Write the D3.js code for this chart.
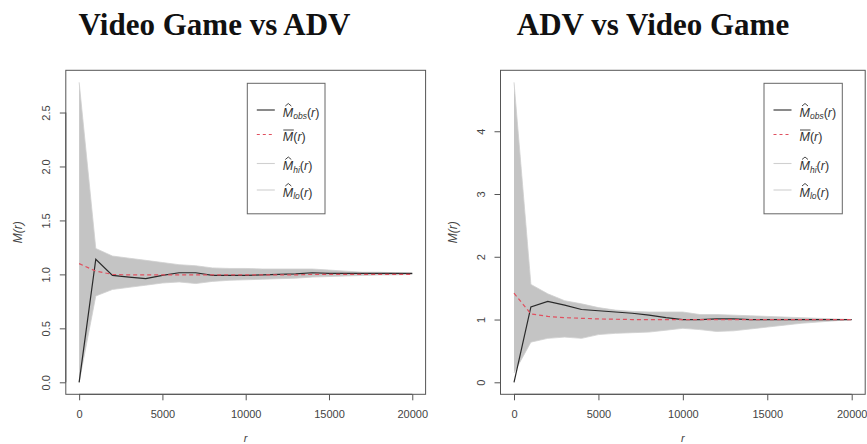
<!DOCTYPE html>
<html><head><meta charset="utf-8">
<script src="https://cdn.jsdelivr.net/npm/d3@7"></script>
<style>body{margin:0;background:#fff}svg{display:block}</style>
</head><body>
<svg id="chart" width="867" height="444"></svg>
<script>
// ---------------- data ----------------
const titles = ["Video Game vs ADV", "ADV vs Video Game"];
const rValues = [0,1000,2000,3000,4000,5000,6000,7000,8000,9000,10000,11000,12000,13000,14000,15000,16000,17000,18000,19000,20000];
const rTicks = [0,5000,10000,15000,20000];

// Video Game vs ADV
const vgObs  = [0,1.14,0.99,0.975,0.96,0.99,1.015,1.015,0.99,0.99,0.99,0.995,1.0,1.005,1.015,1.01,1.01,1.01,1.01,1.01,1.01];
const vgMean = [1.10,1.03,1.0,0.995,0.995,0.995,0.995,0.995,0.995,0.995,0.995,0.995,0.995,0.995,1.0,1.0,1.0,1.0,1.0,1.0,1.0];
const vgHi   = [2.78,1.24,1.17,1.15,1.13,1.11,1.09,1.08,1.06,1.055,1.055,1.05,1.05,1.05,1.05,1.04,1.03,1.02,1.02,1.015,1.01];
const vgLo   = [0.0,0.80,0.86,0.88,0.90,0.92,0.93,0.915,0.935,0.945,0.95,0.955,0.96,0.965,0.975,0.98,0.985,0.99,0.995,0.995,1.0];
const vgYTicks = [0,0.5,1.0,1.5,2.0,2.5];

// ADV vs Video Game
const advObs  = [0,1.20,1.29,1.23,1.16,1.14,1.12,1.10,1.07,1.03,1.0,1.0,1.01,1.01,1.0,1.0,1.0,1.0,1.0,1.0,1.0];
const advMean = [1.42,1.09,1.05,1.03,1.02,1.01,1.005,1.0,1.0,1.0,1.0,1.0,1.0,1.0,1.0,1.0,1.0,1.0,1.0,1.0,1.0];
const advHi   = [4.78,1.56,1.41,1.30,1.25,1.19,1.15,1.13,1.12,1.12,1.12,1.08,1.08,1.07,1.06,1.05,1.04,1.03,1.02,1.01,1.0];
const advLo   = [0.15,0.64,0.70,0.72,0.70,0.76,0.78,0.79,0.80,0.83,0.86,0.84,0.81,0.82,0.85,0.88,0.91,0.94,0.96,0.98,1.0];
const advYTicks = [0,1,2,3,4];

const legendSubs = ["obs", null, "hi", "lo"];

// ---------------- layout ----------------
const panels = [
  {title: titles[0], obs: vgObs, mean: vgMean, hi: vgHi, lo: vgLo, yTicks: vgYTicks, yFmt: d3.format(".1f"),
   x0: 65.8, x1: 425.6, titleX: 214.5, legX: 247.3, legW: 77.7},
  {title: titles[1], obs: advObs, mean: advMean, hi: advHi, lo: advLo, yTicks: advYTicks, yFmt: d3.format("d"),
   x0: 500.5, x1: 865.2, titleX: 653, legX: 764, legW: 78.3}
];
const yTop = 70.3, yBot = 394.3;
const axisCol = "#555", textCol = "#444";
const svg = d3.select("#chart");
const sans = "'Liberation Sans', Arial, sans-serif";

panels.forEach(p => {
  // R-style 4% padding
  const xExt = d3.extent(rValues), xPad = (xExt[1]-xExt[0])*0.04;
  const x = d3.scaleLinear().domain([xExt[0]-xPad, xExt[1]+xPad]).range([p.x0, p.x1]);
  const yMax = d3.max([...p.obs, ...p.hi, ...p.lo, ...p.mean]);
  const yMin = d3.min([...p.obs, ...p.hi, ...p.lo, ...p.mean]);
  const yPad = (yMax - yMin)*0.04;
  const y = d3.scaleLinear().domain([yMin-yPad, yMax+yPad]).range([yBot, yTop]);

  const g = svg.append("g");

  // title
  svg.append("text").attr("x", p.titleX).attr("y", 35).attr("text-anchor", "middle")
    .attr("font-family", "'Liberation Serif', 'Times New Roman', serif").attr("font-weight", "bold")
    .attr("font-size", 31).attr("fill", "#111").text(p.title);

  // band
  const pts = rValues.map((r, i) => ({r, hi: p.hi[i], lo: p.lo[i], obs: p.obs[i], mean: p.mean[i]}));
  g.append("path").datum(pts)
    .attr("d", d3.area().x(d => x(d.r)).y0(d => y(d.lo)).y1(d => y(d.hi)))
    .attr("fill", "#c4c4c4").attr("stroke", "none");
  ["hi", "lo"].forEach(k => {
    g.append("path").datum(pts).attr("d", d3.line().x(d => x(d.r)).y(d => y(d[k])))
      .attr("fill", "none").attr("stroke", "#cfcfcf").attr("stroke-width", 0.8);
  });
  // observed
  g.append("path").datum(pts).attr("d", d3.line().x(d => x(d.r)).y(d => y(d.obs)))
    .attr("fill", "none").attr("stroke", "#2a2a2a").attr("stroke-width", 1.2);
  // mean
  g.append("path").datum(pts).attr("d", d3.line().x(d => x(d.r)).y(d => y(d.mean)))
    .attr("fill", "none").attr("stroke", "#e0505f").attr("stroke-width", 1.2).attr("stroke-dasharray", "4,3");

  // box
  g.append("rect").attr("x", p.x0).attr("y", yTop).attr("width", p.x1-p.x0).attr("height", yBot-yTop)
    .attr("fill", "none").attr("stroke", axisCol).attr("stroke-width", 1);

  // x axis
  const xa = g.append("g").attr("transform", `translate(0,${yBot})`)
    .call(d3.axisBottom(x).tickValues(rTicks).tickSize(6).tickPadding(10).tickFormat(d3.format("d")));
  xa.select(".domain").attr("d", `M${x(rTicks[0])},0H${x(rTicks[rTicks.length-1])}`).attr("stroke", axisCol);
  xa.selectAll(".tick line").attr("stroke", axisCol);
  xa.selectAll(".tick text").attr("font-family", sans).attr("font-size", 11).attr("fill", textCol);

  // y axis
  const ya = g.append("g").attr("transform", `translate(${p.x0},0)`)
    .call(d3.axisLeft(y).tickValues(p.yTicks).tickSize(6).tickFormat(p.yFmt));
  ya.select(".domain").attr("d", `M0,${y(p.yTicks[0])}V${y(p.yTicks[p.yTicks.length-1])}`).attr("stroke", axisCol);
  ya.selectAll(".tick line").attr("stroke", axisCol);
  ya.selectAll(".tick text")
    .attr("font-family", sans).attr("font-size", 11).attr("fill", textCol)
    .attr("x", null).attr("dy", null).attr("text-anchor", "middle")
    .attr("transform", "translate(-15.5,0) rotate(-90)");

  // axis titles
  g.append("text").attr("x", (p.x0+p.x1)/2).attr("y", 441.5).attr("text-anchor", "middle")
    .attr("font-family", sans).attr("font-style", "italic").attr("font-size", 11).attr("fill", textCol).text("r");
  g.append("text").attr("transform", `translate(${p.x0-43.5},${(yTop+yBot)/2}) rotate(-90)`)
    .attr("text-anchor", "middle").attr("font-family", sans).attr("font-style", "italic")
    .attr("font-size", 12).attr("fill", textCol).text("M(r)");

  // legend
  const lg = g.append("g");
  lg.append("rect").attr("x", p.legX).attr("y", 83.3).attr("width", p.legW).attr("height", 130.5)
    .attr("fill", "#fff").attr("stroke", "#666").attr("stroke-width", 1);
  const baselines = [116.5, 141, 170, 196.5];
  const styles = [
    {stroke: "#2a2a2a", dash: null},
    {stroke: "#e0505f", dash: "3,3"},
    {stroke: "#d0d0d0", dash: null},
    {stroke: "#d0d0d0", dash: null}
  ];
  const lx0 = p.legX + 9.5, lx1 = p.legX + 27.5, tx = p.legX + 35.5;
  baselines.forEach((b, i) => {
    lg.append("line").attr("x1", lx0).attr("x2", lx1).attr("y1", b-6.5).attr("y2", b-6.5)
      .attr("stroke", styles[i].stroke).attr("stroke-width", 1.1).attr("stroke-dasharray", styles[i].dash);
    const t = lg.append("text").attr("x", tx).attr("y", b).attr("font-family", sans)
      .attr("font-size", 12.5).attr("fill", "#333");
    t.append("tspan").attr("font-style", "italic").text("M");
    if (legendSubs[i]) {
      t.append("tspan").attr("font-style", "italic").attr("font-size", 8.5).attr("dy", 2.5).text(legendSubs[i]);
      t.append("tspan").attr("dy", -2.5).text("(");
    } else {
      t.append("tspan").text("(");
    }
    t.append("tspan").attr("font-style", "italic").text("r");
    t.append("tspan").text(")");
    if (legendSubs[i]) {
      // hat
      lg.append("path").attr("d", `M${tx+2.5},${b-10.5}L${tx+5.5},${b-13}L${tx+8.5},${b-10.5}`)
        .attr("fill", "none").attr("stroke", "#333").attr("stroke-width", 0.9);
    } else {
      // bar
      lg.append("line").attr("x1", tx+0.5).attr("x2", tx+11).attr("y1", b-11).attr("y2", b-11)
        .attr("stroke", "#333").attr("stroke-width", 0.9);
    }
  });
});
</script>
</body></html>
